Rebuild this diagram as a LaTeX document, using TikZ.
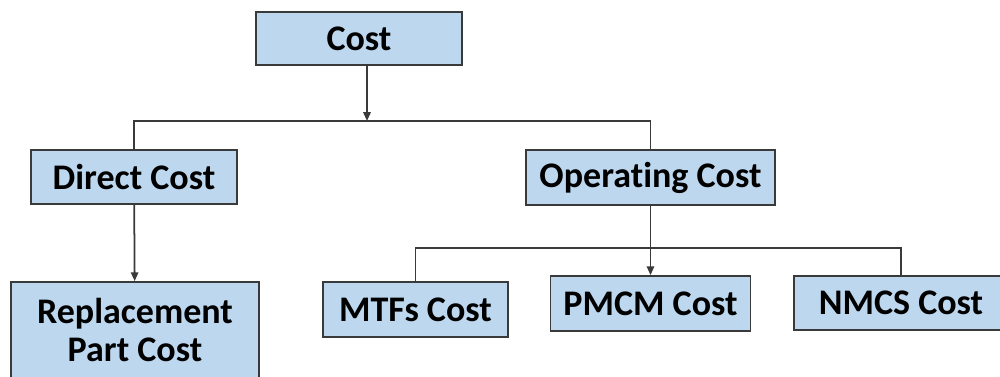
\documentclass[tikz,border=0pt]{standalone}
\usepackage{fontspec}
\setmainfont{Carlito}[Ligatures=NoCommon]
\usetikzlibrary{arrows.meta}
\definecolor{boxfill}{HTML}{BDD7EE}
\definecolor{edge}{HTML}{3A3A3A}
\tikzset{
  costbox/.style={draw=edge, fill=boxfill, line width=1pt, align=center,
    inner sep=0pt, font=\fontsize{20.5}{21.5}\selectfont\bfseries},
  link/.style={edge, line width=1pt},
}
\begin{document}
\begin{tikzpicture}[>={Triangle[length=5pt,width=4.2pt]}, x=0.02cm, y=-0.02cm]
\clip (0,0) rectangle (1000,377);
\node[costbox, minimum width=206*0.02cm, minimum height=53*0.02cm] (cost) at (359,38.5) {Cost};
\node[costbox, minimum width=206*0.02cm, minimum height=54*0.02cm] (direct) at (134,177) {Direct Cost};
\node[costbox, minimum width=249*0.02cm, minimum height=55*0.02cm] (operating) at (650.5,177.5) {Operating Cost};
\node[costbox, minimum width=248*0.02cm, minimum height=96*0.02cm] (replace) at (135,330) {Replacement\\Part Cost};
\node[costbox, minimum width=185*0.02cm, minimum height=55*0.02cm] (mtfs) at (415.5,309.5) {MTFs Cost};
\node[costbox, minimum width=200*0.02cm, minimum height=55*0.02cm] (pmcm) at (650.5,303.5) {PMCM Cost};
\node[costbox, minimum width=214*0.02cm, minimum height=54*0.02cm] (nmcs) at (901,303) {NMCS Cost};
% junctions of the branch lines
\coordinate (j1) at (367,121);
\coordinate (j2) at (650.5,248);
\draw[->, link] (cost.south -| j1) -- (j1);
\draw[link] (direct.north) |- (j1) -| (operating.north);
\draw[->, link] (direct) -- (replace);
\draw[->, link] (operating) -- (pmcm);
\draw[link] (mtfs.north) |- (j2) -| (nmcs.north);
\end{tikzpicture}
\end{document}
